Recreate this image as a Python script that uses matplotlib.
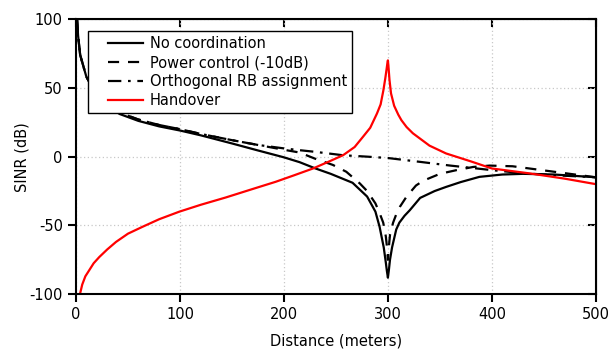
import matplotlib
matplotlib.use('Agg')
import matplotlib.pyplot as plt
from matplotlib.legend_handler import HandlerLine2D

# data (distance in m, SINR in dB)
x_nocoord = [1, 2, 4, 10, 20, 30, 42, 60, 80, 100, 120, 150, 175, 190, 200, 215, 230,
             245, 266, 280, 288, 292, 296, 298, 299, 300, 301, 302, 304, 308, 311,
             316, 321, 331, 345, 356, 370, 388, 410, 430, 460, 500]
y_nocoord = [100, 88, 74, 58, 45, 37, 31, 26, 22, 19, 15.5, 9.6, 4.5, 1.5, -0.5, -4, -8.5,
             -12.5, -19, -29, -40, -51, -66, -77, -83, -88, -82, -75, -66, -53, -48,
             -43, -39, -30, -25, -22, -18.5, -14.7, -13, -12.5, -13, -15]

x_power = [1, 2, 4, 10, 20, 30, 42, 60, 80, 100, 120, 150, 175, 200, 215, 230, 247, 260,
           273, 280, 288, 292, 295.5, 298, 299, 300, 301, 302, 305, 308, 311.5, 318,
           327, 334, 350, 366, 382, 398, 420, 450, 475, 500]
y_power = [100, 88, 74, 58, 45, 37.5, 32, 27, 23, 20, 16.5, 12, 8.5, 5, 3, -1.5, -6, -11,
           -19.5, -25, -34, -41, -48, -58, -65, -75, -65, -57, -48, -42, -36.5, -29,
           -21, -17.5, -12.5, -9.8, -7.5, -6.5, -7, -10, -12.5, -15]

x_orth = [1, 2, 4, 10, 20, 30, 42, 60, 80, 100, 120, 150, 175, 200, 215, 230, 257, 280,
          300, 331, 360, 400, 430, 460, 500]
y_orth = [100, 88, 74, 58, 45, 37.5, 32, 27, 23, 20, 16.5, 12, 8.5, 6, 4.7, 3.5, 1, 0,
          -1, -3.8, -6.5, -9.8, -12, -13.5, -15]

x_handover = [3.8, 6, 9, 12.8, 17, 22.4, 30, 38.5, 50, 64, 80, 99.4, 120, 144, 170, 192,
              210, 228, 245, 257, 268, 276, 283, 289.5, 293, 295.6, 297.5, 298.8, 299.5,
              300, 300.5, 301.5, 303, 306, 310, 313, 318, 324, 340, 356, 380, 400, 436.5,
              470, 500]
y_handover = [-100, -93, -87, -82.5, -77.5, -73, -67.5, -62, -56, -51, -45.5, -40, -35,
              -29.7, -23.5, -18.3, -13.5, -8.6, -3, 1.1, 7, 14.4, 21, 31.4, 38, 48, 57,
              64, 68, 70, 66, 56, 46, 37, 30.5, 26.5, 21.5, 17, 8, 2.3, -3.5, -8.6,
              -12.2, -16, -20]


class PaddedLine(HandlerLine2D):
    "legend line handle drawn with some empty room on its left"
    def __init__(self, pad=10, **kw):
        HandlerLine2D.__init__(self, **kw)
        self.pad = pad

    def create_artists(self, legend, orig_handle, xdescent, ydescent, width,
                       height, fontsize, trans):
        return HandlerLine2D.create_artists(self, legend, orig_handle,
                                            xdescent - self.pad, ydescent,
                                            width - self.pad, height, fontsize, trans)


plt.rcParams['font.family'] = ['DejaVu Sans']
plt.rcParams['font.size'] = 10
plt.rcParams['axes.unicode_minus'] = False

fig = plt.figure(figsize=(6.08, 3.54), dpi=100)
ax = fig.add_axes([0.125, 0.169, 0.855, 0.777])

lw = 1.6
ax.plot(x_nocoord, y_nocoord, color='black', lw=lw, label='No coordination')
ax.plot(x_power, y_power, color='black', lw=lw, linestyle=(0, (5, 4)),
        label='Power control (-10dB)')
ax.plot(x_orth, y_orth, color='black', lw=lw, linestyle=(0, (6, 3, 1.2, 3)),
        label='Orthogonal RB assignment')
ax.plot(x_handover, y_handover, color='#ff0000', lw=lw, label='Handover')

ax.set_xlim(0, 500)
ax.set_ylim(-100, 100)
ax.set_xticks([0, 100, 200, 300, 400, 500])
ax.set_yticks([-100, -50, 0, 50, 100])
ax.grid(True, color='#c8c8c8', linestyle=(0, (1, 2)), linewidth=0.9)

for sp in ax.spines.values():
    sp.set_linewidth(1.5)
ax.tick_params(direction='out', length=6, width=1.5, colors='black', labelsize=10.5)

# mirrored inward ticks on top and right
top = ax.secondary_xaxis('top')
top.set_xticks([0, 100, 200, 300, 400, 500])
top.tick_params(direction='in', length=6, width=1.5, labeltop=False)
right = ax.secondary_yaxis('right')
right.set_yticks([-100, -50, 0, 50, 100])
right.tick_params(direction='in', length=6, width=1.5, labelright=False)

ax.set_xlabel('Distance (meters)', fontsize=10.5, labelpad=8)
ax.set_ylabel('SINR (dB)', fontsize=10.5, labelpad=0)

leg = ax.legend(loc='upper left', bbox_to_anchor=(0.023, 0.956), fontsize=10.5,
                fancybox=False, edgecolor='black', framealpha=1,
                handlelength=3.43, borderpad=0.35, labelspacing=0.27,
                handletextpad=0.48, borderaxespad=0,
                handler_map={plt.Line2D: PaddedLine(pad=10.8)})
leg.get_frame().set_linewidth(1.0)

fig.savefig('out.png', dpi=100)
